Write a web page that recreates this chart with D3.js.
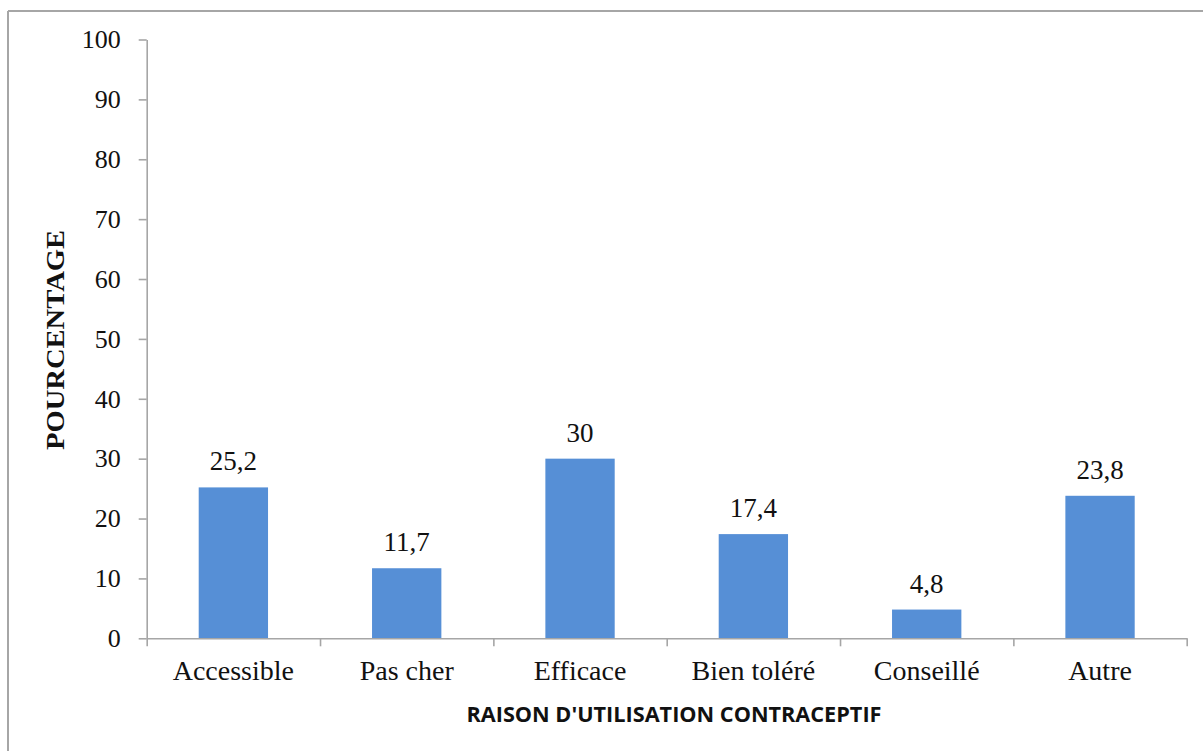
<!DOCTYPE html>
<html>
<head>
<meta charset="utf-8">
<script src="https://cdn.jsdelivr.net/npm/d3@7/dist/d3.min.js"></script>
<style>
  html, body { margin: 0; padding: 0; background: #fff; }
  svg { display: block; }
</style>
</head>
<body>
<svg id="chart" width="1203" height="751"></svg>
<script>
// Reasons for contraceptive use, share of respondents (%)
const categories = ["Accessible", "Pas cher", "Efficace", "Bien toléré", "Conseillé", "Autre"];
const values = [25.2, 11.7, 30, 17.4, 4.8, 23.8];
const valueLabels = ["25,2", "11,7", "30", "17,4", "4,8", "23,8"];
const yTicks = [0, 10, 20, 30, 40, 50, 60, 70, 80, 90, 100];
const yTitle = "POURCENTAGE";
const xTitle = "RAISON D'UTILISATION CONTRACEPTIF";

const svg = d3.select("#chart");
const W = 1203, H = 751;
const plot = { left: 146.7, right: 1186.7, top: 39.5, bottom: 638.3 };
const axisColor = "#a6a6a6";
const barColor = "#568fd6";
const serif = "'Liberation Serif', 'Times New Roman', serif";

// outer frame (top and left edges visible)
svg.append("line").attr("x1", 8).attr("x2", W).attr("y1", 11).attr("y2", 11)
  .attr("stroke", axisColor).attr("stroke-width", 2);
svg.append("line").attr("x1", 8).attr("x2", 8).attr("y1", 11).attr("y2", H)
  .attr("stroke", axisColor).attr("stroke-width", 2);

const x = d3.scaleBand()
  .domain(categories)
  .range([plot.left, plot.right])
  .paddingInner(0.6)
  .paddingOuter(0.3);

const y = d3.scaleLinear().domain([0, 100]).range([plot.bottom, plot.top]);

// category boundary scale for x-axis tick marks
const xEdges = d3.scaleLinear().domain([0, categories.length]).range([plot.left, plot.right]);

// y axis
const yAxis = svg.append("g")
  .attr("transform", `translate(${plot.left},0)`)
  .call(d3.axisLeft(y).tickValues(yTicks).tickSize(8).tickSizeOuter(0).tickPadding(18).tickFormat(d3.format("d")));
yAxis.select(".domain").attr("stroke", axisColor).attr("stroke-width", 1.6);
yAxis.selectAll(".tick line").attr("stroke", axisColor).attr("stroke-width", 1.6);
yAxis.selectAll(".tick text")
  .attr("font-family", serif).attr("font-size", 26).attr("fill", "#111");

// bars
svg.append("g").selectAll("rect")
  .data(values)
  .join("rect")
  .attr("x", (d, i) => x(categories[i]))
  .attr("width", x.bandwidth())
  .attr("y", d => y(d))
  .attr("height", d => y(0) - y(d))
  .attr("fill", barColor);

// x axis: boundary ticks
const xAxis = svg.append("g")
  .attr("transform", `translate(0,${plot.bottom})`)
  .call(d3.axisBottom(xEdges).ticks(categories.length).tickSize(8).tickSizeOuter(0).tickFormat(""));
xAxis.select(".domain").attr("stroke", axisColor).attr("stroke-width", 1.6);
xAxis.selectAll(".tick line").attr("stroke", axisColor).attr("stroke-width", 1.6);

// category labels
svg.append("g").selectAll("text")
  .data(categories)
  .join("text")
  .attr("x", d => x(d) + x.bandwidth() / 2)
  .attr("y", plot.bottom + 42)
  .attr("text-anchor", "middle")
  .attr("font-family", serif)
  .attr("font-size", 28)
  .attr("fill", "#111")
  .text(d => d);

// value labels above bars
svg.append("g").selectAll("text")
  .data(values)
  .join("text")
  .attr("x", (d, i) => x(categories[i]) + x.bandwidth() / 2)
  .attr("y", d => y(d) - 17)
  .attr("text-anchor", "middle")
  .attr("font-family", serif)
  .attr("font-size", 27)
  .attr("fill", "#111")
  .text((d, i) => valueLabels[i]);

// axis titles
svg.append("text")
  .attr("transform", `translate(64,340) rotate(-90)`)
  .attr("text-anchor", "middle")
  .attr("font-family", serif)
  .attr("font-weight", "bold")
  .attr("font-size", 26)
  .attr("textLength", 220)
  .attr("lengthAdjust", "spacingAndGlyphs")
  .attr("fill", "#111")
  .text(yTitle);

svg.append("text")
  .attr("x", 674)
  .attr("y", 722)
  .attr("text-anchor", "middle")
  .attr("font-family", "'Open Sans', 'Liberation Sans', sans-serif")
  .attr("font-weight", "bold")
  .attr("font-size", 22)
  .attr("textLength", 415)
  .attr("lengthAdjust", "spacingAndGlyphs")
  .attr("fill", "#111")
  .text(xTitle);
</script>
</body>
</html>
